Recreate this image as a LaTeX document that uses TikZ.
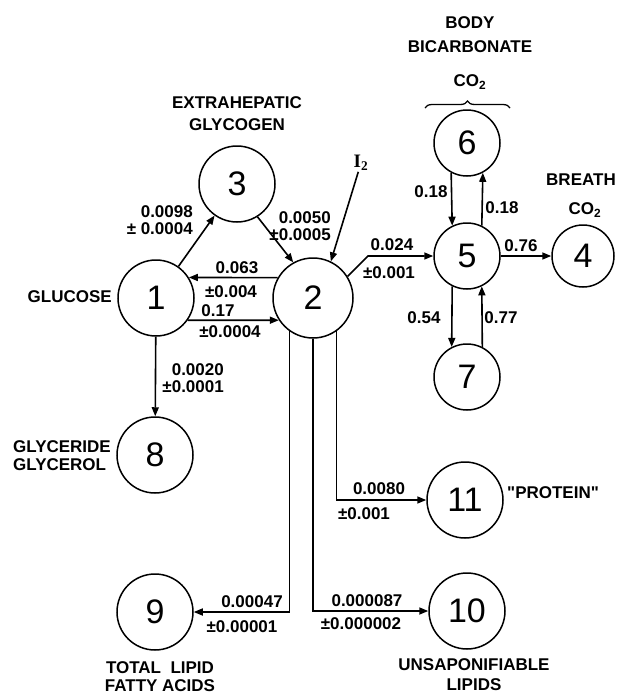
\documentclass[tikz,border=0pt]{standalone}
\usepackage{fontspec}
\setmainfont{Liberation Sans}
\newfontfamily\romfont{Liberation Serif}
\usetikzlibrary{arrows.meta, decorations.pathreplacing}

\begin{document}
\begin{tikzpicture}[
      x=1pt, y=-1pt,
      %% Compartments (large and small circles)
      pool/.style={circle, draw, line width=1.5pt, minimum size=76pt, inner sep=0pt,
                   font=\fontsize{34}{34}\selectfont},
      spool/.style={pool, minimum size=66pt},
      %% Names of the compartments
      lbl/.style={font=\bfseries\fontsize{17}{20}\selectfont, align=center, inner sep=0pt},
      %% Rate constants
      rate/.style={font=\bfseries\fontsize{17}{17}\selectfont, inner sep=0pt},
      arr/.style={-{Triangle[length=9pt, width=7pt]}, line width=1.6pt},
    ]
    \useasboundingbox (0,0) rectangle (620,697);

    %% ── Compartments ────────────────────────────────────────────────────────
    \node[pool]  (c1)  at (156,298) {1};
    \node[pool, minimum size=80pt] (c2) at (313,298) {2};
    \node[pool]  (c3)  at (237,184) {3};
    \node[spool, minimum size=62pt] (c4) at (583,256) {4};
    \node[spool] (c5)  at (467,256) {5};
    \node[spool] (c6)  at (467,143) {6};
    \node[spool] (c7)  at (467,377) {7};
    \node[pool]  (c8)  at (155,455) {8};
    \node[pool]  (c9)  at (155,612) {9};
    \node[pool]  (c10) at (467,611) {10};
    \node[pool]  (c11) at (465,500) {11};

    %% ── Names ───────────────────────────────────────────────────────────────
    \node[lbl] (bicarb) at (470,35) {BODY\\[4pt]BICARBONATE};
    \node[lbl] (co2b)   at (470,82) {CO\textsubscript{2}};
    \coordinate (bl) at (425,108);
    \coordinate (br) at (510,108);
    \draw[line width=1.3pt, decorate, decoration={brace, amplitude=7pt}] (bl) -- (br);

    \node[lbl] (glycogen) at (237,114) {EXTRAHEPATIC\\[2pt]GLYCOGEN};
    \node[lbl] (breath)   at (581,180) {BREATH};
    \node[lbl] (co2a)     at (585,210) {CO\textsubscript{2}};
    \node[lbl, anchor=east] (glucose) at (112,297) {GLUCOSE};
    \node[lbl, align=left, anchor=west] (glycerol) at (13,456)
      {GLYCERIDE\\[-2pt]GLYCEROL};
    \node[lbl] (fatty)   at (160,677) {TOTAL\ \ LIPID\\[-2pt]FATTY ACIDS};
    \node[lbl] (unsap)   at (474,675) {UNSAPONIFIABLE\\LIPIDS};
    \node[lbl, anchor=west] (protein) at (507,493) {\textquotedbl PROTEIN\textquotedbl};
    \node[font=\romfont\bfseries\fontsize{19}{19}\selectfont, inner sep=1pt]
      (i2) at (361,163) {I\textsubscript{2}};

    %% ── Rate constants ──────────────────────────────────────────────────────
    \node[rate, align=right, anchor=east] (k31) at (193,220) {0.0098\\± 0.0004};
    \node[rate, align=right, anchor=east] (k23) at (331,226) {0.0050\\±0.0005};
    \node[rate] (k12a)  at (237,268) {0.063};
    \node[rate] (k12b)  at (231,292) {±0.004};
    \node[rate] (k21a)  at (218,311) {0.17};
    \node[rate] (k21b)  at (230,332) {±0.0004};
    \node[rate] (k52a)  at (392,245) {0.024};
    \node[rate] (k52b)  at (389,273) {±0.001};
    \node[rate] (k45)   at (521,246) {0.76};
    \node[rate] (k56)   at (431,192) {0.18};
    \node[rate] (k65)   at (502,208) {0.18};
    \node[rate] (k75)   at (424,318) {0.54};
    \node[rate] (k57)   at (501,318) {0.77};
    \node[rate, align=right, anchor=east] (k81) at (224,378) {0.0020\\±0.0001};
    \node[rate] (k112a) at (379,489) {0.0080};
    \node[rate] (k112b) at (364,514) {±0.001};
    \node[rate] (k92a)  at (252,602) {0.00047};
    \node[rate] (k92b)  at (242,627) {±0.00001};
    \node[rate] (k102a) at (367,601) {0.000087};
    \node[rate] (k102b) at (361,624) {±0.000002};

    %% ── Arrows ──────────────────────────────────────────────────────────────
    \draw[arr] (c1) -- (c3);
    \draw[arr] (c3.-58) -- (c2.119);
    \draw[arr] (i2) -- (c2.64);
    \draw[arr] (c2.150) -- (c1.32);
    \draw[arr] (c1.-35) -- (c2.-147);

    %% to the bicarbonate pool: short slant, then level
    \coordinate (bend) at (368,256);
    \draw[arr] (c2.32) -- (bend) -- (c5);
    \draw[arr] (c5) -- (c4);
    \draw[arr] (c6.242) -- (c5.116);
    \draw[arr] (c5.64)  -- (c6.-62);
    \draw[arr] (c5.-116) -- (c7.117);
    \draw[arr] (c7.63)  -- (c5.-64);

    \draw[arr] (c1) -- (c8);

    %% three drops from pool 2
    \draw[arr] (c2.235)  |- (c9);
    \draw[arr] (c2.south) |- (c10);
    \draw[arr] (c2.-55)  |- (c11);
  \end{tikzpicture}
\end{document}
